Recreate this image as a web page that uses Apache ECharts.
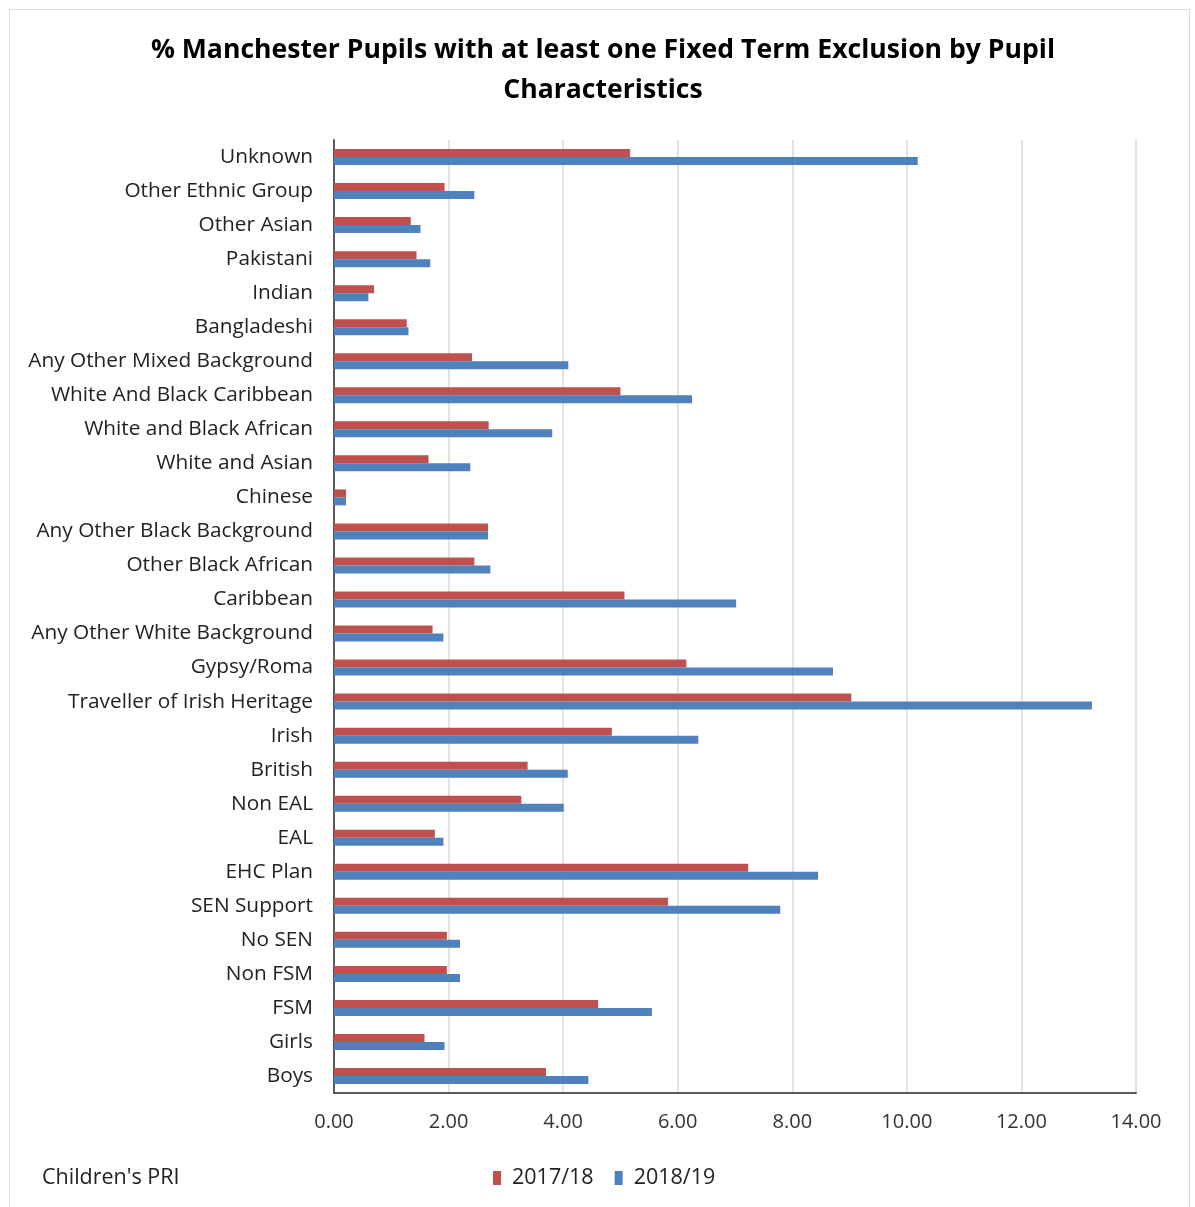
<!DOCTYPE html>
<html>
<head>
<meta charset="utf-8">
<script src="https://cdn.jsdelivr.net/npm/echarts@6/dist/echarts.min.js"></script>
<style>
  html, body { margin: 0; padding: 0; background: #ffffff; }
  #frame { position: absolute; left: 9px; top: 9px; width: 1181px; height: 1210px; border: 1px solid #dcdcdc; box-sizing: border-box; }
  #chart { position: absolute; left: 0; top: 0; width: 1195px; height: 1207px; }
</style>
</head>
<body>
<div id="frame"></div>
<div id="chart"></div>
<script>
// Pupil characteristics, listed top to bottom
const categories = [
  'Unknown', 'Other Ethnic Group', 'Other Asian', 'Pakistani', 'Indian', 'Bangladeshi',
  'Any Other Mixed Background', 'White And Black Caribbean', 'White and Black African',
  'White and Asian', 'Chinese', 'Any Other Black Background', 'Other Black African',
  'Caribbean', 'Any Other White Background', 'Gypsy/Roma', 'Traveller of Irish Heritage',
  'Irish', 'British', 'Non EAL', 'EAL', 'EHC Plan', 'SEN Support', 'No SEN', 'Non FSM',
  'FSM', 'Girls', 'Boys'
];

// % of pupils with at least one fixed term exclusion
const values2017 = [
  5.17, 1.93, 1.34, 1.44, 0.70, 1.27,
  2.41, 5.00, 2.70,
  1.65, 0.21, 2.69, 2.45,
  5.07, 1.72, 6.15, 9.03,
  4.85, 3.38, 3.27, 1.76, 7.23, 5.83, 1.97, 1.97,
  4.61, 1.58, 3.70
];
const values2018 = [
  10.19, 2.45, 1.51, 1.68, 0.60, 1.30,
  4.09, 6.25, 3.81,
  2.38, 0.21, 2.69, 2.73,
  7.02, 1.91, 8.71, 13.23,
  6.36, 4.08, 4.01, 1.91, 8.45, 7.79, 2.20, 2.20,
  5.55, 1.93, 4.44
];

const seriesNames = ['2017/18', '2018/19'];
const xTicks = { min: 0, max: 14, interval: 2 };

const fontFamily = '"Open Sans", Lato, sans-serif';

const chart = echarts.init(document.getElementById('chart'), null, { renderer: 'canvas' });
chart.setOption({
  backgroundColor: 'transparent',
  animation: false,
  color: ['#C0504D', '#4F81BD'],
  title: [
    {
      text: '% Manchester Pupils with at least one Fixed Term Exclusion by Pupil\nCharacteristics',
      left: 598, top: 25, textAlign: 'center',
      textStyle: { fontFamily: fontFamily, fontSize: 26.6, fontWeight: 'bold', color: '#000', lineHeight: 40 }
    },
    {
      text: "Children's PRI",
      left: 37, top: 1162,
      textStyle: { fontFamily: fontFamily, fontSize: 21.5, fontWeight: 'normal', color: '#222' }
    }
  ],
  legend: {
    data: seriesNames,
    left: 488, top: 1162,
    itemWidth: 8, itemHeight: 14, itemGap: 21,
    icon: 'rect',
    textStyle: { fontFamily: fontFamily, fontSize: 21.5, color: '#222', padding: [0, 0, 0, 6] }
  },
  grid: { left: 334, right: 59, top: 140, bottom: 114, containLabel: false },
  xAxis: {
    type: 'value',
    min: xTicks.min, max: xTicks.max, interval: xTicks.interval,
    axisLine: { show: true, lineStyle: { color: '#595959', width: 2 } },
    axisTick: { show: false },
    splitLine: { show: true, lineStyle: { color: '#d9d9d9', width: 1.5 } },
    axisLabel: {
      margin: 19,
      fontFamily: fontFamily, fontSize: 20, color: '#333',
      formatter: v => v.toFixed(2)
    }
  },
  yAxis: {
    type: 'category',
    data: categories,
    inverse: true,
    axisLine: { show: true, lineStyle: { color: '#595959', width: 2 } },
    axisTick: { show: false },
    splitLine: { show: false },
    axisLabel: { margin: 21, fontFamily: fontFamily, fontSize: 20.8, color: '#222', interval: 0 }
  },
  series: [
    { name: seriesNames[0], type: 'bar', data: values2017, barWidth: 8, barGap: '0%' },
    { name: seriesNames[1], type: 'bar', data: values2018, barWidth: 8, barGap: '0%' }
  ]
});
</script>
</body>
</html>
